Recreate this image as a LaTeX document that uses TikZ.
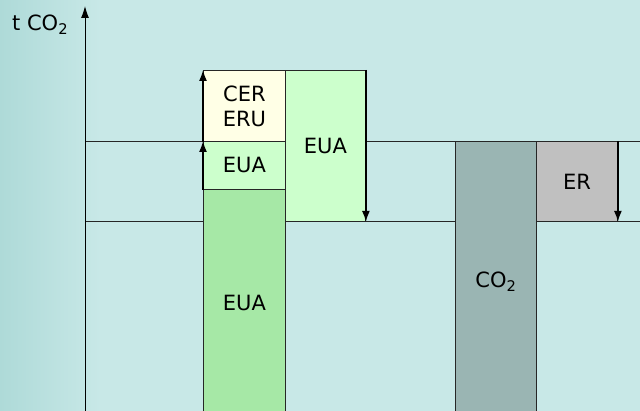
\documentclass[tikz,border=0pt]{standalone}
\usepackage{fontspec}
\setmainfont{DejaVu Sans}
\usetikzlibrary{arrows.meta}
\definecolor{bgteal}{HTML}{C8E8E7}
\definecolor{bgedge}{HTML}{AEDAD8}
\definecolor{eudark}{HTML}{A6E8A6}
\definecolor{eulight}{HTML}{CCFFCC}
\definecolor{ceryel}{HTML}{FFFFE6}
\definecolor{cogray}{HTML}{9AB5B3}
\definecolor{ergray}{HTML}{C0C0C0}
\begin{document}
\begin{tikzpicture}[x=1pt,y=-1pt,
  box/.style={draw=black!85,line width=0.9pt,inner sep=0pt,anchor=north west,font=\fontsize{21}{25}\selectfont,align=center},
  conn/.style={draw=black!85,line width=0.9pt},
  arr/.style={line width=1.6pt,-{Latex[length=11pt,width=8pt]}},
  lbl/.style={font=\fontsize{21}{25}\selectfont}]
\useasboundingbox (0,0) rectangle (640,411);
\fill[bgteal] (0,0) rectangle (640,411);
\shade[left color=bgedge,right color=bgteal] (0,0) rectangle (100,411);
% level lines
\coordinate (h1l) at (85,141); \coordinate (h1r) at (645,141);
\coordinate (h2l) at (85,221); \coordinate (h2r) at (645,221);
\draw[conn] (h1l) -- (h1r);
\draw[conn] (h2l) -- (h2r);
% boxes
\node[box,fill=eudark,minimum width=82pt,minimum height=228pt] (euabase) at (203,189) {EUA};
\node[box,fill=eulight,minimum width=82pt,minimum height=48pt] (euamid) at (203,141) {EUA};
\node[box,fill=ceryel,minimum width=82pt,minimum height=71pt] (cer) at (203,70) {CER\\ERU};
\node[box,fill=eulight,minimum width=80pt,minimum height=151pt] (euatall) at (285,70) {EUA};
\node[box,fill=cogray,minimum width=81pt,minimum height=280pt] (co2) at (455,141) {CO\textsubscript{2}};
\node[box,fill=ergray,minimum width=81pt,minimum height=80pt] (er) at (536,141) {ER};
% axis
\coordinate (axb) at (85,415);
\coordinate (axt) at (85,6);
\draw[line width=1pt,-{Latex[length=12pt,width=8pt]}] (axb) -- (axt);
\node[lbl,anchor=base west,inner sep=0pt] (unit) at (12,31) {t CO\textsubscript{2}};
% arrows
\draw[arr] (euamid.south west) -- (euamid.north west);
\draw[arr] (cer.south west) -- (cer.north west);
\draw[arr] (euatall.north east) -- (euatall.south east);
\draw[arr] (er.north east) -- (er.south east);
\end{tikzpicture}
\end{document}
